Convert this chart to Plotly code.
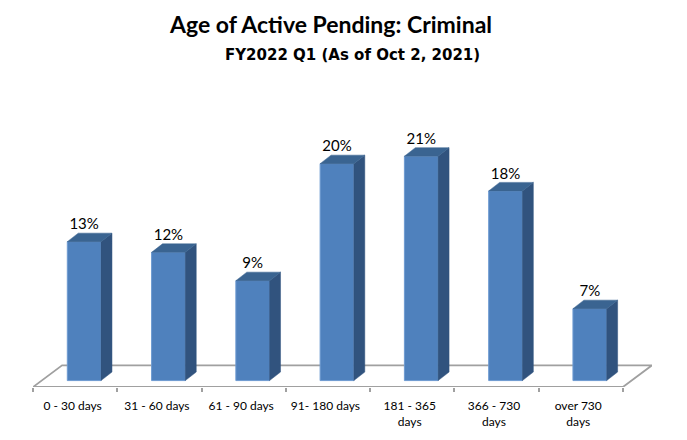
import plotly.graph_objects as go

categories = ["0 - 30 days", "31 - 60 days", "61 - 90 days", "91- 180 days",
              "181 - 365<br>days", "366 - 730<br>days", "over 730<br>days"]
values = [13.0, 12.0, 9.35, 20.3, 21.0, 17.75, 6.73]

FRONT = "#4F81BD"
SIDE = "#31537E"
TOP = "#3A6491"
EDGE = "#6E9BD1"
FLOOR = "#A0A0A0"
TEXT = "#000000"
FONT = "Lato"

bar_w = 0.40
bar_off = 0.107
label_off = -0.03
dx = 0.13
dy = 0.80
floor_dx = 0.345
floor_low = -0.6
floor_high = 1.43
idx = list(range(len(values)))
centers = [i + bar_off for i in idx]

side_x, side_y, top_x, top_y = [], [], [], []
for c, v in zip(centers, values):
    l, r = c - bar_w / 2, c + bar_w / 2
    side_x += [r, r + dx, r + dx, r, r, None]
    side_y += [0, dy, v + dy, v, 0, None]
    top_x += [l, l + dx, r + dx, r, l, None]
    top_y += [v, v + dy, v + dy, v, v, None]

fig = go.Figure()
fig.add_bar(x=centers, y=values, width=bar_w, marker=dict(color=FRONT, line=dict(color=EDGE, width=1)),
            hoverinfo="skip")
for xs, ys, col in [(side_x, side_y, SIDE), (top_x, top_y, TOP)]:
    fig.add_scatter(x=xs, y=ys, mode="lines", fill="toself", fillcolor=col,
                    line=dict(color=col, width=0.5), hoverinfo="skip")
fig.add_scatter(x=centers, y=[v + dy for v in values], mode="text",
                text=[f"{v:.0f}%" for v in values], textposition="top center",
                textfont=dict(family=FONT, size=15, color=TEXT), hoverinfo="skip")

x0, x1 = -0.5, len(values) - 0.5
floor_path = (f"M {x0} {floor_low} L {x1} {floor_low} L {x1 + floor_dx} {floor_high} "
              f"L {x0 + floor_dx} {floor_high} Z")
fig.add_shape(type="path", path=floor_path, layer="below", line=dict(color=FLOOR, width=1.8),
              fillcolor="rgba(0,0,0,0)")

fig.add_annotation(text="<b>Age of Active Pending: Criminal</b>", xref="paper", yref="paper",
                   x=(330 - 33) / (651.7 - 33), y=1 + (100 - 24) / 287.5, xanchor="center", yanchor="middle",
                   showarrow=False, font=dict(family=FONT, size=23, color=TEXT))
fig.add_annotation(text="<b>FY2022 Q1 (As of Oct 2, 2021)</b>", xref="paper", yref="paper",
                   x=(352 - 33) / (651.7 - 33), y=1 + (100 - 55) / 287.5, xanchor="center", yanchor="middle",
                   showarrow=False, font=dict(family="DejaVu Sans", size=15, color=TEXT))

fig.update_layout(
    width=679, height=432, autosize=False,
    margin=dict(l=25, r=35.3, t=92, b=52.5),
    paper_bgcolor="white", plot_bgcolor="white",
    showlegend=False,
    xaxis=dict(range=[x0, x1 + floor_dx], tickmode="array", tickvals=[i + label_off for i in idx], ticktext=categories,
               ticks="", showgrid=False, zeroline=False, showline=False,
               tickfont=dict(family=FONT, size=12, color=TEXT), tickangle=0, ticklabelstandoff=10,
               minor=dict(tickmode="array", tickvals=[x0 + i for i in range(len(values) + 1)],
                          ticks="outside", ticklen=4, tickcolor=FLOOR, tickwidth=1.5, showgrid=False)),
    yaxis=dict(range=[floor_low, 26.26], visible=False),
)
fig.write_html("out.html")
